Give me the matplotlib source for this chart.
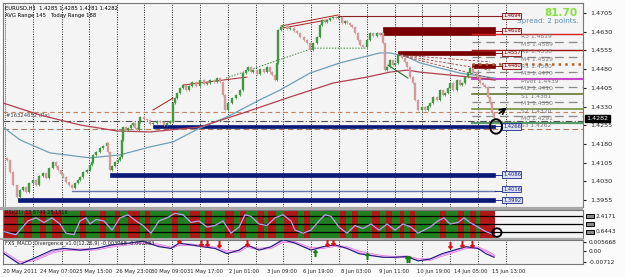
import matplotlib
matplotlib.use("Agg")
import matplotlib.pyplot as plt
import matplotlib.transforms as mtransforms
from matplotlib.patches import Rectangle, Ellipse

W, H = 625, 277

# ---- price data (hourly bars, EURUSD H1) ----
bars = [4, 7, 10, 13, 17, 20, 23, 26, 29, 33, 36, 39, 43, 46, 49, 53, 56, 58, 61, 63,
        66, 69, 72, 75, 78, 80, 83, 87, 90, 92, 93, 96, 100, 103, 107, 108, 110, 112, 115, 118,
        120, 122, 123, 126, 128, 131, 133, 135, 137, 139, 140, 144, 147, 150, 153, 157, 160, 164, 167, 170,
        172, 173, 175, 177, 180, 183, 186, 189, 192, 196, 200, 204, 207, 210, 214, 217, 220, 223, 225, 228,
        232, 236, 240, 243, 246, 248, 251, 253, 257, 260, 264, 267, 270, 272, 275, 277, 278, 281, 283, 287,
        290, 294, 297, 300, 304, 307, 310, 313, 317, 320, 322, 325, 327, 330, 333, 336, 338, 342, 345, 347,
        350, 352, 355, 358, 360, 363, 367, 370, 373, 377, 380, 382, 383, 385, 387, 390, 393, 395, 398, 402,
        405, 407, 410, 413, 415, 418, 422, 425, 428, 430, 433, 437, 440, 443, 445, 448, 450, 453, 457, 460,
        462, 465, 468, 470, 473, 477, 480, 483, 485, 488, 490, 492, 494]
closes = [1.4124, 1.4116, 1.4067, 1.4015, 1.3967, 1.3995, 1.4007, 1.3987, 1.4023, 1.4035,
          1.4015, 1.4051, 1.4063, 1.4043, 1.4083, 1.4107, 1.4091, 1.4075, 1.4059, 1.4047,
          1.4027, 1.4015, 1.4003, 1.4023, 1.4035, 1.4047, 1.4067, 1.4075, 1.4095, 1.4107,
          1.4136, 1.4148, 1.4164, 1.4172, 1.4184, 1.4148, 1.4075, 1.4091, 1.4107, 1.4116,
          1.4128, 1.4196, 1.4248, 1.4236, 1.4244, 1.4256, 1.4264, 1.4244, 1.4236, 1.4268,
          1.4288, 1.4280, 1.4276, 1.4260, 1.4264, 1.4272, 1.4268, 1.4256, 1.4264, 1.4272,
          1.4268, 1.4344, 1.4364, 1.4384, 1.4404, 1.4416, 1.4396, 1.4412, 1.4428, 1.4412,
          1.4436, 1.4420, 1.4424, 1.4436, 1.4428, 1.4444, 1.4428, 1.4376, 1.4316, 1.4344,
          1.4364, 1.4376, 1.4396, 1.4464, 1.4476, 1.4488, 1.4468, 1.4476, 1.4460, 1.4480,
          1.4468, 1.4488, 1.4468, 1.4456, 1.4436, 1.4505, 1.4637, 1.4649, 1.4657, 1.4641,
          1.4645, 1.4633, 1.4625, 1.4609, 1.4597, 1.4585, 1.4557, 1.4585, 1.4609, 1.4657,
          1.4677, 1.4669, 1.4677, 1.4685, 1.4689, 1.4685, 1.4689, 1.4665, 1.4673, 1.4665,
          1.4657, 1.4649, 1.4625, 1.4597, 1.4577, 1.4569, 1.4597, 1.4625, 1.4613, 1.4625,
          1.4617, 1.4625, 1.4585, 1.4476, 1.4488, 1.4517, 1.4496, 1.4505, 1.4537, 1.4525,
          1.4509, 1.4488, 1.4448, 1.4424, 1.4357, 1.4316, 1.4328, 1.4316, 1.4332, 1.4344,
          1.4368, 1.4357, 1.4396, 1.4376, 1.4384, 1.4404, 1.4424, 1.4396, 1.4436, 1.4416,
          1.4424, 1.4448, 1.4464, 1.4484, 1.4468, 1.4448, 1.4424, 1.4416, 1.4408, 1.4368,
          1.4344, 1.4304, 1.4282]

# moving averages
ma_blue_x = [3, 20, 50, 90, 120, 150, 173, 200, 227, 260, 280, 310, 340, 360, 380, 390, 407, 420, 440, 460, 480, 495]
ma_blue = [1.4248, 1.4196, 1.4144, 1.4124, 1.4136, 1.4168, 1.4188, 1.4244, 1.4288, 1.4357, 1.4396,
           1.4464, 1.4505, 1.4525, 1.4545, 1.4545, 1.4529, 1.4505, 1.4484, 1.4464, 1.4452, 1.4444]
ma_red_x = [3, 40, 80, 117, 150, 200, 243, 290, 333, 367, 390, 407, 420, 450, 480, 495]
ma_red = [1.4344, 1.4296, 1.4256, 1.4232, 1.4228, 1.4248, 1.4304, 1.4368, 1.4424, 1.4448,
          1.4468, 1.4476, 1.4468, 1.4456, 1.4444, 1.4436]

# pivot levels
pivot_names = ['R3', 'M5', 'R2', 'M4', 'R1', 'M3', 'Pivot', 'M2', 'S1', 'M1', 'S2', 'M0', 'S3']
pivot_vals = [1.4619, 1.4589, 1.4558, 1.4529, 1.4500, 1.4470, 1.4439, 1.4410, 1.4381,
              1.4350, 1.4320, 1.4291, 1.4262]

# supply (red) and demand (navy) zones: start bar, top, bottom, label
red_start = [383, 398, 472]
red_top = [1.4649, 1.4553, 1.4501]
red_bot = [1.4617, 1.4537, 1.4484]
red_labels = ['1.4618', '1.4557', '1.4480']
navy_start = [153, 110, 18]
navy_top = [1.4256, 1.4065, 1.3963]
navy_bot = [1.4244, 1.4049, 1.3947]
navy_labels = ['1.4266', '1.4086', '1.3992']
thin_level = 1.3993
thin_label = '1.4016'
top_level = 1.4694
top_label = '1.4694'

right_ticks = [1.4705, 1.4630, 1.4555, 1.4480, 1.4405, 1.4330, 1.4255, 1.4180, 1.4105, 1.4030, 1.3955]
grid_bars = [33, 62, 89, 117, 144, 172, 200, 228, 256, 283, 311, 339, 367, 395, 422, 450, 478, 506]
time_bars = [3, 40, 76, 116, 151, 187, 229, 267, 303, 341, 379, 417, 454, 492]
time_labels = ['20 May 2011', '24 May 07:00', '25 May 15:00', '26 May 23:00', '30 May 09:00',
               '31 May 17:00', '2 Jun 01:00', '3 Jun 09:00', '6 Jun 19:00', '8 Jun 03:00',
               '9 Jun 11:00', '10 Jun 19:00', '14 Jun 05:00', '15 Jun 13:00']

# RSI panel
stripe_starts = [3, 18, 24, 32, 40, 46, 52, 62, 80, 86, 100, 106, 115, 120, 128, 140, 145, 150,
                 172, 178, 190, 200, 205, 212, 225, 234, 240, 246, 258, 264, 268, 276, 284, 298,
                 304, 310, 340, 346, 352, 358, 372, 380, 386, 392, 400, 404, 410, 415, 440, 446,
                 458, 464, 470, 476, 480]
stripe_end = 495
rsi_x = [4, 16, 28, 36, 44, 52, 60, 66, 74, 80, 86, 90, 96, 104, 112, 120, 128, 136, 143, 151,
         159, 167, 175, 183, 191, 199, 207, 215, 223, 231, 239, 245, 251, 259, 267, 275, 283, 291,
         295, 303, 311, 319, 325, 331, 339, 347, 355, 363, 371, 379, 387, 395, 403, 411, 418, 424,
         430, 438, 444, 450, 458, 464, 470, 478, 486, 494]
rsi = [30.3, 22.4, 57.9, 65.8, 53.9, 65.8, 50.0, 26.3, 22.4, 57.9, 65.8, 50.0, 61.8, 57.9, 34.2,
       65.8, 73.7, 57.9, 46.1, 26.3, 57.9, 65.8, 77.6, 73.7, 53.9, 57.9, 42.1, 46.1, 57.9, 26.3,
       42.1, 73.7, 69.7, 50.0, 46.1, 65.8, 73.7, 57.9, 34.2, 26.3, 34.2, 57.9, 73.7, 69.7, 42.1,
       26.3, 46.1, 38.2, 50.0, 34.2, 50.0, 34.2, 50.0, 42.1, 26.3, 34.2, 42.1, 57.9, 65.8, 50.0,
       53.9, 65.8, 53.9, 42.1, 30.3, 22.4]
rsi_levels = [70, 50, 30]
rsi_level_labels = ['2.4171', '', '0.6443']

# MACD panel
macd_x = [4, 20, 36, 52, 64, 80, 96, 112, 128, 143, 159, 171, 179, 191, 203, 215, 227, 239, 247, 259,
          271, 283, 295, 311, 323, 335, 347, 359, 371, 383, 395, 407, 418, 430, 442, 454, 466, 478, 486, 494]
macd_main = [-0.0018, -0.0087, -0.0041, 0.0005, 0.0016, 0.0005, 0.0016, 0.0039, 0.0050, 0.0062,
             0.0027, 0.0016, 0.0050, 0.0039, 0.0027, 0.0016, -0.0018, 0.0005, 0.0039, 0.0005,
             0.0027, 0.0073, 0.0050, 0.0005, 0.0027, 0.0039, 0.0016, -0.0018, -0.0030, -0.0041,
             -0.0041, -0.0036, -0.0064, -0.0052, -0.0018, 0.0005, 0.0027, 0.0016, -0.0018, -0.0041]
macd_signal = [-0.0010, -0.0075, -0.0055, -0.0010, 0.0008, 0.0008, 0.0010, 0.0030, 0.0043, 0.0055,
               0.0038, 0.0020, 0.0040, 0.0040, 0.0030, 0.0020, -0.0005, -0.0003, 0.0028, 0.0012,
               0.0020, 0.0060, 0.0055, 0.0015, 0.0020, 0.0033, 0.0022, -0.0005, -0.0022, -0.0035,
               -0.0040, -0.0037, -0.0055, -0.0056, -0.0030, -0.0005, 0.0020, 0.0020, 0.0000, -0.0030]
sell_x = [179, 201, 207, 219, 247, 327, 333, 450, 462, 472]
sell_y = [0.0068, 0.0050, 0.0050, 0.0045, 0.0050, 0.0050, 0.0055, 0.0035, 0.0045, 0.0045]
buy_x = [315, 367, 407, 409]
buy_y = [-0.0015, -0.0035, -0.0052, -0.0052]


def box(x0, y0, x1, y1):
    return [x0 / W, 1 - y1 / H, (x1 - x0) / W, (y1 - y0) / H]


BG = '#f4f4f4'
fig = plt.figure(figsize=(6.25, 2.77), dpi=100)
fig.patch.set_facecolor('#fbfbfb')

# panel separators
fig.patches.append(Rectangle((0, 1 - 210 / H), 583 / W, 3 / H, transform=fig.transFigure,
                             facecolor='#a8a8a8', edgecolor='none', zorder=0))
fig.patches.append(Rectangle((0, 1 - 240 / H), 583 / W, 2 / H, transform=fig.transFigure,
                             facecolor='#a8a8a8', edgecolor='none', zorder=0))

# ================= main price panel =================
ax = fig.add_axes(box(3, 3, 583, 207))
ax.set_facecolor(BG)
ax.set_xlim(3, 583)
ax.set_ylim(1.3927, 1.47451)
for s in ax.spines.values():
    s.set_color('#777777')
    s.set_linewidth(0.8)
ax.set_xticks([])
ax.yaxis.tick_right()
ax.set_yticks(right_ticks)
ax.set_yticklabels(['%.4f' % v for v in right_ticks])
ax.tick_params(axis='y', labelsize=4.6, length=2, pad=3, colors='#222222')

for gx in grid_bars:
    ax.axvline(gx, color='#222222', lw=0.7, ls=(0, (1, 1.5)), zorder=1)
ax.axvline(5, color='#555555', lw=0.7, ls=(0, (1, 1)), zorder=1)

# full-width dashed lines
ax.axhline(1.4308, color='#c8825a', lw=0.8, ls=(0, (4, 3)), zorder=1)
ax.axhline(1.4272, color='#505050', lw=0.8, ls=(0, (6, 2, 1, 2)), zorder=1)
ax.axhline(1.4240, color='#b07a5a', lw=0.8, ls=(0, (5, 3)), zorder=1)
ax.text(6, 1.4287, '#16324652 (Rx)', fontsize=3.8, color='#444444', zorder=3)

box_kw_navy = dict(boxstyle='square,pad=0.12', fc='#dfe0f4', ec='#1a2a88', lw=0.6)
box_kw_red = dict(boxstyle='square,pad=0.12', fc='#f4e6e6', ec='#7a0000', lw=0.6)

# demand zones
for st, tp, bt, lab in zip(navy_start, navy_top, navy_bot, navy_labels):
    ax.add_patch(Rectangle((st, bt), 495 - st, tp - bt, facecolor='#0a1a78',
                           edgecolor='#0a1a78', lw=0.5, zorder=2))
    mid = (tp + bt) / 2
    ax.plot([495, 502], [mid, mid], color='#0a1a78', lw=0.6, zorder=2)
    ax.text(503, mid, lab, fontsize=3.7, color='#1a2a88', va='center', ha='left', zorder=5,
            bbox=box_kw_navy)
ax.plot([72, 495], [thin_level, thin_level], color='#6a74a8', lw=1.0, zorder=2)
ax.plot([495, 502], [thin_level, thin_level], color='#0a1a78', lw=0.6, zorder=2)
ax.text(503, thin_level + 0.0006, thin_label, fontsize=3.7, color='#1a2a88', va='center',
        ha='left', zorder=5, bbox=box_kw_navy)

# supply zones
for st, tp, bt, lab in zip(red_start, red_top, red_bot, red_labels):
    ax.add_patch(Rectangle((st, bt), 495 - st, tp - bt, facecolor='#7a0000',
                           edgecolor='#7a0000', lw=0.5, zorder=2))
    mid = (tp + bt) / 2
    ax.plot([495, 502], [mid, mid], color='#7a0000', lw=0.6, zorder=2)
    ax.text(503, mid, lab, fontsize=3.7, color='#7a0000', va='center', ha='left', zorder=5,
            bbox=box_kw_red)
ax.plot([338, 502], [top_level, top_level], color='#8a2020', lw=0.8, zorder=2)
ax.text(503, top_level, top_label, fontsize=3.7, color='#7a0000', va='center', ha='left', zorder=5,
        bbox=box_kw_red)

# pivot lines
piv_style = {
    'R3': ('#d42020', '-', 1.0), 'R2': ('#a01010', '-', 1.0), 'R1': ('#b0602a', ':', 1.8),
    'Pivot': ('#cc44cc', '-', 1.5), 'S1': ('#5a6a20', '-', 1.1), 'S2': ('#6a8a30', '-', 1.1),
    'S3': ('#5a9a6a', '-', 1.6),
}
for name, val in zip(pivot_names, pivot_vals):
    col, ls, lw = piv_style.get(name, ('#8a8a8a', (0, (7, 4)), 0.9))
    ax.plot([472, 583], [val, val], color=col, ls=ls, lw=lw, zorder=3)
    ax.text(521, val + 0.0001, '%s %.4f' % (name, val), fontsize=4.3, color='#7a7a7a',
            va='top', ha='left', zorder=4)

# moving averages
ax.plot(ma_blue_x, ma_blue, color='#6e9fb8', lw=0.9, zorder=3)
ax.plot(ma_red_x, ma_red, color='#b04050', lw=0.9, zorder=3)

# trend lines
ax.plot([153, 173], [1.4316, 1.4364], color='#b02020', lw=0.7, zorder=4)
ax.plot([183, 247], [1.4416, 1.4448], color='#b02020', lw=0.7, zorder=4)
ax.plot([281, 338], [1.4653, 1.4697], color='#b02020', lw=0.7, zorder=4)
ax.plot([283, 327], [1.4645, 1.4677], color='#b02020', lw=0.7, zorder=4)
ax.plot([226, 313, 367], [1.4444, 1.4564, 1.4564], color='#3a8a3a', lw=0.7, ls=(0, (1.5, 1.5)), zorder=4)
ax.plot([388, 408], [1.4496, 1.4444], color='#2a6a2a', lw=0.8, zorder=4)
for end in [1.4509, 1.4476, 1.4444]:
    ax.plot([398, 490], [1.4537, end], color='#a04040', lw=0.6, ls=(0, (3, 2)), zorder=4)

# candles
for i in range(1, len(bars)):
    o, c = closes[i - 1], closes[i]
    col = '#3f9a3f' if c >= o else '#d49a9a'
    lo, hi = min(o, c), max(o, c)
    ax.vlines(bars[i], lo - 0.0004, hi + 0.0004, color=col, lw=0.6, zorder=5)
    ax.vlines(bars[i], lo, hi, color=col, lw=1.7, zorder=5)

# hand-drawn marks
ax.add_patch(Ellipse((496, 1.4250), 12, 0.0058, fill=False, ec='black', lw=1.4, zorder=6))
ax.annotate('', xy=(509, 1.4332), xytext=(497, 1.4296),
            arrowprops=dict(arrowstyle='->', color='black', lw=1.2), zorder=6)

# current price label
trans_r = mtransforms.blended_transform_factory(ax.transAxes, ax.transData)
ax.text(1.006, closes[-1], '%.4f' % closes[-1], transform=trans_r, fontsize=4.6, color='white',
        va='center', ha='left', zorder=7,
        bbox=dict(boxstyle='square,pad=0.2', fc='black', ec='black'))

# header texts
ax.text(0.004, 0.988, 'EURUSD,H1  1.4285 1.4285 1.4281 1.4282', transform=ax.transAxes,
        fontsize=3.8, va='top', ha='left', color='black')
ax.text(0.004, 0.95, 'AVG Range 145   Today Range 188', transform=ax.transAxes,
        fontsize=3.8, va='top', ha='left', color='black')
ax.text(0.99, 0.975, '81.70', transform=ax.transAxes, fontsize=7.5, fontweight='bold',
        color='#86e03c', va='top', ha='right')
ax.text(0.993, 0.925, 'Spread: 2 points.', transform=ax.transAxes, fontsize=5.2,
        color='#5f8fb5', va='top', ha='right')

# ================= RSI / stripe panel =================
ax2 = fig.add_axes(box(3, 210, 583, 238))
ax2.set_facecolor(BG)
ax2.set_xlim(3, 583)
ax2.set_ylim(14, 86)
for s in ax2.spines.values():
    s.set_color('#777777')
    s.set_linewidth(0.8)
ax2.set_xticks([])
ax2.set_yticks([])
edges = stripe_starts + [stripe_end]
for k in range(len(stripe_starts)):
    col = '#b01818' if k % 2 == 0 else '#1f7f1f'
    ax2.axvspan(edges[k], edges[k + 1], color=col, lw=0, zorder=1)
for lv in rsi_levels:
    ax2.axhline(lv, color='black', lw=0.9, zorder=2)
ax2.plot(rsi_x, rsi, color='#b8a0e8', lw=0.9, zorder=3)
ax2.text(5, 80, 'RSI(21) 33.8749 28.1316', fontsize=3.6, color='#111111', va='center', zorder=4)
trans2 = mtransforms.blended_transform_factory(ax2.transAxes, ax2.transData)
for lv, lab in zip(rsi_levels, rsi_level_labels):
    ax2.add_patch(Rectangle((1.006, lv - 5), 0.013, 10, transform=trans2, fc='#8a8a8a',
                            ec='black', lw=0.7, clip_on=False, zorder=5))
    ax2.text(1.021, lv, lab, transform=trans2, fontsize=4.2, va='center', ha='left', color='#222222')
ax2.add_patch(Ellipse((497, 28), 9, 22, fill=False, ec='black', lw=1.4, zorder=6))

# ================= MACD panel =================
ax3 = fig.add_axes(box(3, 240, 583, 264))
ax3.set_facecolor(BG)
ax3.set_xlim(3, 583)
ax3.set_ylim(-0.0084, 0.0070)
for s in ax3.spines.values():
    s.set_color('#777777')
    s.set_linewidth(0.8)
ax3.set_xticks([])
ax3.yaxis.tick_right()
ax3.set_yticks([0.005668, 0.0, -0.00712])
ax3.set_yticklabels(['0.005668', '0.00', '-0.00712'])
ax3.tick_params(axis='y', labelsize=4.2, length=2, pad=2, colors='#222222')
for gx in grid_bars:
    ax3.axvline(gx, color='#222222', lw=0.7, ls=(0, (1, 1.5)), zorder=1)
ax3.plot(macd_x, macd_signal, color='#e070e0', lw=1.6, zorder=2)
ax3.plot(macd_x, macd_signal, color='#f6e0f6', lw=0.5, zorder=2)
ax3.plot(macd_x, macd_main, color='#1a1a80', lw=0.8, zorder=3)
ax3.scatter(sell_x, sell_y, marker='$\u2193$', s=18, color='#e01010', zorder=4)
ax3.scatter(buy_x, buy_y, marker='$\u2191$', s=18, color='#108010', zorder=4)
ax3.text(5, 0.0052, 'FXS_MACD_Divergence_v1.0(12,26,9) -0.003768 -0.002983', fontsize=3.6,
         color='#222222', va='center', zorder=5)

# time axis labels
trans_t = mtransforms.blended_transform_factory(ax3.transData, fig.transFigure)
for tb, lab in zip(time_bars, time_labels):
    fig.text(tb, 1 - 271 / H, lab, transform=trans_t, fontsize=3.8, va='center', ha='left',
             color='#222222')

fig.savefig('out.png', dpi=100, facecolor=fig.get_facecolor())
